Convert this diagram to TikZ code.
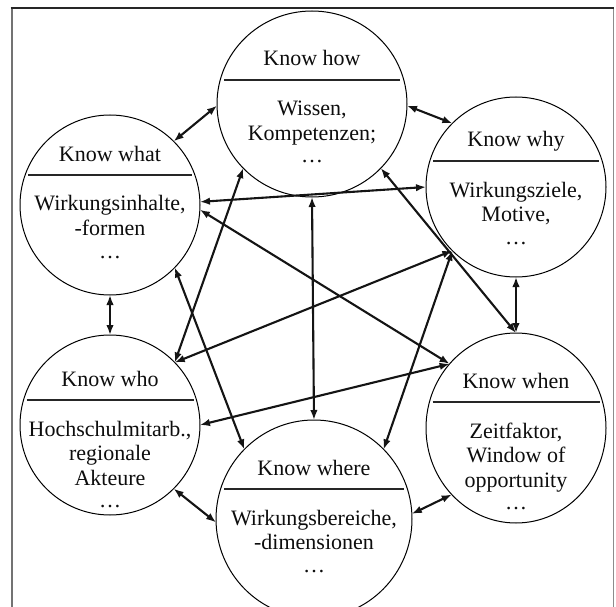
\documentclass[tikz,border=0pt]{standalone}
\usepackage{fontspec}
\setmainfont{Liberation Serif}
\usetikzlibrary{arrows.meta,shapes.geometric}
\begin{document}
\begin{tikzpicture}[x=1pt,y=-1pt,
  bubble/.style={draw=black, line width=1pt, ellipse, inner sep=0pt, outer sep=0pt},
  txt/.style={anchor=base, inner sep=0pt, font=\fontsize{22}{26}\selectfont, text=black!95},
  divider/.style={line width=1.2pt, draw=black!85},
  link/.style={line width=2.1pt, draw=black!92, {Latex[length=10pt,width=7.5pt]}-{Latex[length=10pt,width=7.5pt]}},
]
\useasboundingbox (0,0) rectangle (616,607);
% frame
\draw[black!55, line width=2pt] (11.5,8) -- (11.5,607);
\draw[black!45, line width=1.5pt] (613.5,8) -- (613.5,607);
\draw[black!85, line width=1.2pt] (10.5,8) -- (614,8);

% bubbles
\node[bubble, minimum width=190pt, minimum height=186pt] (how) at (312,104) {};
\node[bubble, minimum width=180pt, minimum height=180pt] (what) at (110,205) {};
\node[bubble, minimum width=180pt, minimum height=180pt] (why) at (516,187) {};
\node[bubble, minimum width=180pt, minimum height=180pt] (who) at (110,425) {};
\node[bubble, minimum width=180pt, minimum height=190pt] (when) at (516,428) {};
\node[bubble, minimum width=196pt, minimum height=198pt] (where) at (314,519) {};

% dividers
\draw[divider] (224,80) -- (400,80);
\draw[divider] (28,175) -- (192,175);
\draw[divider] (433,161) -- (599,161);
\draw[divider] (26.5,400) -- (193.5,400);
\draw[divider] (432.5,402) -- (599.5,402);
\draw[divider] (224,489) -- (404,489);

% texts
\node[txt] (howT) at (312,66) {Know how};
\node[txt] (howA) at (312,116) {Wissen,};
\node[txt] (howB) at (312,140.5) {Kompetenzen;};
\node[txt] (howC) at (312,163) {\ldots};

\node[txt] (whatT) at (110,161) {Know what};
\node[txt] (whatA) at (110,211) {Wirkungsinhalte,};
\node[txt] (whatB) at (110,235.5) {-formen};
\node[txt] (whatC) at (110,258) {\ldots};

\node[txt] (whyT) at (516,147) {Know why};
\node[txt] (whyA) at (516,197) {Wirkungsziele,};
\node[txt] (whyB) at (516,221.5) {Motive,};
\node[txt] (whyC) at (516,244) {\ldots};

\node[txt] (whoT) at (110,386) {Know who};
\node[txt] (whoA) at (110,436) {Hochschulmitarb.,};
\node[txt] (whoB) at (110,460.5) {regionale};
\node[txt] (whoD) at (110,485) {Akteure};
\node[txt] (whoC) at (110,507.5) {\ldots};

\node[txt] (whenT) at (516,388) {Know when};
\node[txt] (whenA) at (516,438) {Zeitfaktor,};
\node[txt] (whenB) at (516,462.5) {Window of};
\node[txt] (whenD) at (516,487) {opportunity};
\node[txt] (whenC) at (516,509.5) {\ldots};

\node[txt] (whereT) at (314,475) {Know where};
\node[txt] (whereA) at (314,525) {Wirkungsbereiche,};
\node[txt] (whereB) at (314,549.5) {-dimensionen};
\node[txt] (whereC) at (314,572) {\ldots};

% connectors
\draw[link] (what.45) -- (how.181);
\draw[link] (how.359) -- (why.135);
\draw[link] (what.270) -- (who.90);
\draw[link] (why.270) -- (when.90);
\draw[link] (who.315) -- (where.182);
\draw[link] (where.3) -- (when.226);
\draw[link] (what.2) -- (why.180);
\draw[link] (what.357) -- (when.136);
\draw[link] (how.223) -- (who.44);
\draw[link] (how.270) -- (where.90);
\draw[link] (how.317) -- (when.90);
\draw[link] (why.225) -- (who.44);
\draw[link] (why.225) -- (where.45);
\draw[link] (what.316) -- (where.135);
\draw[link] (who.0) -- (when.136);
\end{tikzpicture}
\end{document}
